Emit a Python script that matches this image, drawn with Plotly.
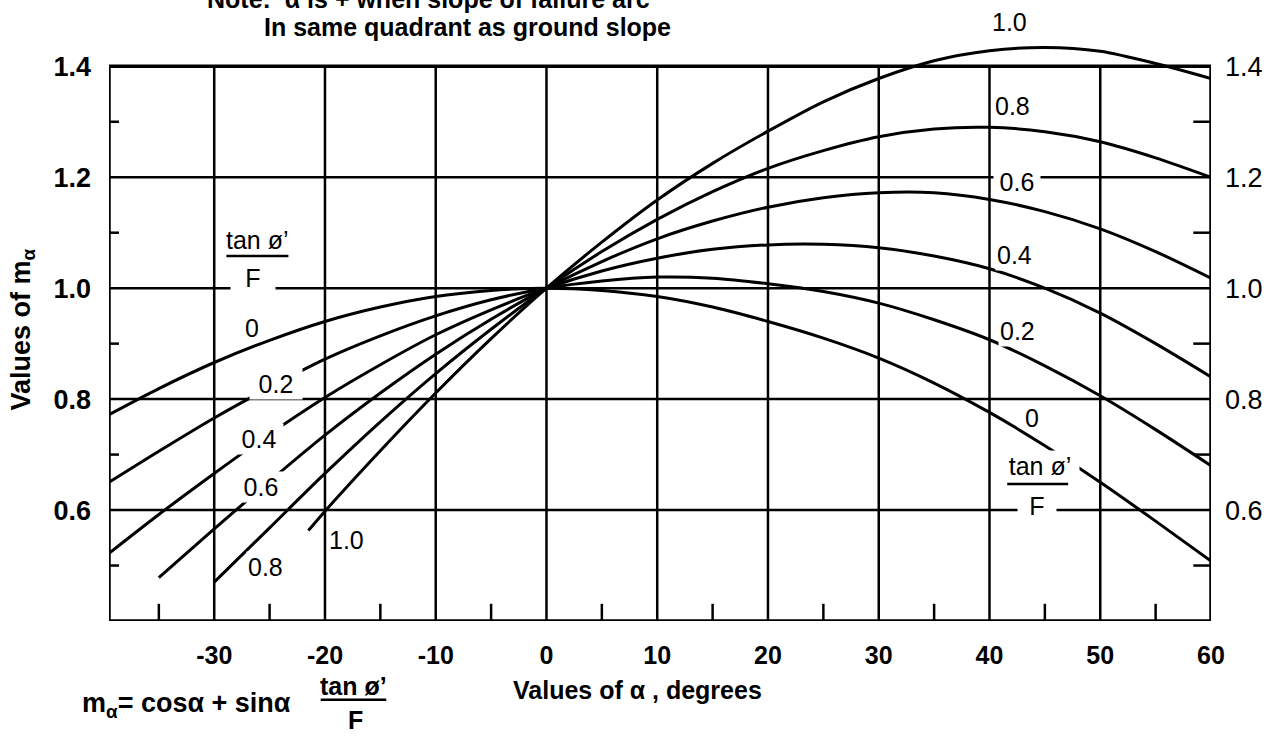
import plotly.graph_objects as go

# ---------------- data ----------------
alpha_full = [-39.5, -35, -30, -25, -20, -15, -10, -5, 0, 5, 10, 15, 20, 25, 30, 35, 40, 45, 50, 55, 60]
alpha_06 = [-35, -30, -25, -20, -15, -10, -5, 0, 5, 10, 15, 20, 25, 30, 35, 40, 45, 50, 55, 60]
alpha_08 = [-30, -25, -20, -15, -10, -5, 0, 5, 10, 15, 20, 25, 30, 35, 40, 45, 50, 55, 60]
alpha_10 = [-21.5, -20, -15, -10, -5, 0, 5, 10, 15, 20, 25, 30, 35, 40, 45, 50, 55, 60]

m_00 = [0.772, 0.819, 0.866, 0.906, 0.940, 0.966, 0.985, 0.996, 1.000, 0.996, 0.985, 0.966, 0.940,
        0.910, 0.874, 0.829, 0.776, 0.716, 0.650, 0.580, 0.508]
m_02 = [0.650, 0.706, 0.766, 0.821, 0.872, 0.914, 0.950, 0.979, 1.000, 1.013, 1.020, 1.018, 1.008,
        0.994, 0.973, 0.943, 0.907, 0.860, 0.806, 0.745, 0.680]
m_04 = [0.522, 0.592, 0.666, 0.737, 0.803, 0.862, 0.916, 0.961, 1.000, 1.031, 1.054, 1.070, 1.078,
        1.079, 1.073, 1.058, 1.035, 1.000, 0.955, 0.900, 0.840]
m_06 = [0.478, 0.566, 0.652, 0.735, 0.811, 0.881, 0.944, 1.000, 1.048, 1.089, 1.121, 1.146, 1.163,
        1.172, 1.172, 1.160, 1.138, 1.107, 1.066, 1.018]
m_08 = [0.470, 0.568, 0.666, 0.759, 0.846, 0.926, 1.000, 1.066, 1.124, 1.174, 1.216, 1.248, 1.273,
        1.287, 1.290, 1.282, 1.264, 1.235, 1.200]
m_10 = [0.563, 0.598, 0.707, 0.811, 0.909, 1.000, 1.083, 1.159, 1.225, 1.283, 1.336, 1.378, 1.410,
        1.428, 1.434, 1.427, 1.405, 1.378]

ratio_names = ["0", "0.2", "0.4", "0.6", "0.8", "1.0"]
curve_x = [alpha_full, alpha_full, alpha_full, alpha_06, alpha_08, alpha_10]
curve_y = [m_00, m_02, m_04, m_06, m_08, m_10]

x_tick_vals = [-30, -20, -10, 0, 10, 20, 30, 40, 50, 60]
x_tick_text = ["-30", "-20", "-10", "0", "10", "20", "30", "40", "50", "60"]
y_tick_vals = [0.6, 0.8, 1.0, 1.2, 1.4]
y_tick_text = ["0.6", "0.8", "1.0", "1.2", "1.4"]
x_grid = [-30, -20, -10, 0, 10, 20, 30, 40, 50]
y_grid = [0.6, 0.8, 1.0, 1.2]
x_minor = [-35, -25, -15, -5, 5, 15, 25, 35, 45, 55]
y_minor = [0.5, 0.7, 0.9, 1.1, 1.3]

X_MIN, X_MAX = -39.5, 60
Y_MIN, Y_FRAME_TOP, Y_VIEW_TOP = 0.4, 1.4, 1.46

FONT = "Liberation Sans, Arial, Helvetica, sans-serif"

fig = go.Figure()

for name, xs, ys in zip(ratio_names, curve_x, curve_y):
    fig.add_trace(go.Scatter(
        x=xs, y=ys, mode="lines", name=name,
        line=dict(color="black", width=3, shape="spline", smoothing=0.8),
        hoverinfo="skip", showlegend=False))

# invisible trace to anchor the right-hand axis
fig.add_trace(go.Scatter(x=alpha_full, y=m_00, yaxis="y2", mode="lines",
                         line=dict(width=0, color="rgba(0,0,0,0)"),
                         hoverinfo="skip", showlegend=False))

shapes = []
grid_line = dict(color="black", width=2.5)
for gx in x_grid:
    shapes.append(dict(type="line", xref="x", yref="y", x0=gx, x1=gx, y0=Y_MIN, y1=Y_FRAME_TOP,
                       line=grid_line, layer="below"))
for gy in y_grid:
    shapes.append(dict(type="line", xref="x", yref="y", x0=X_MIN, x1=X_MAX, y0=gy, y1=gy,
                       line=grid_line, layer="below"))
# frame
frame_line = dict(color="black", width=3.5)
shapes += [
    dict(type="line", xref="x", yref="y", x0=X_MIN, x1=X_MAX, y0=Y_FRAME_TOP, y1=Y_FRAME_TOP, line=frame_line, layer="below"),
    dict(type="line", xref="x", yref="y", x0=X_MIN, x1=X_MAX, y0=Y_MIN, y1=Y_MIN, line=frame_line, layer="below"),
    dict(type="line", xref="x", yref="y", x0=X_MIN, x1=X_MIN, y0=Y_MIN, y1=Y_FRAME_TOP, line=frame_line, layer="below"),
    dict(type="line", xref="x", yref="y", x0=X_MAX, x1=X_MAX, y0=Y_MIN, y1=Y_FRAME_TOP, line=frame_line, layer="below"),
]
# minor ticks
tick_line = dict(color="black", width=2.5)
for mx in x_minor:
    shapes.append(dict(type="line", xref="x", yref="y", x0=mx, x1=mx, y0=Y_MIN, y1=Y_MIN + 0.031,
                       line=tick_line, layer="below"))
for my in y_minor:
    shapes.append(dict(type="line", xref="x", yref="y", x0=X_MIN, x1=X_MIN + 0.9, y0=my, y1=my,
                       line=tick_line, layer="below"))
    shapes.append(dict(type="line", xref="x", yref="y", x0=X_MAX - 1.6, x1=X_MAX, y0=my, y1=my,
                       line=tick_line, layer="below"))
# fraction bars of tan(phi')/F labels
shapes.append(dict(type="line", xref="x", yref="y", x0=-28.9, x1=-23.3, y0=1.058, y1=1.058,
                   line=dict(color="black", width=2.5)))
shapes.append(dict(type="line", xref="x", yref="y", x0=41.6, x1=47.1, y0=0.647, y1=0.647,
                   line=dict(color="black", width=2.5)))
# fraction bar of the formula (paper coords)
shapes.append(dict(type="line", xref="paper", yref="paper", x0=0.1921, x1=0.2516, y0=-0.134, y1=-0.134,
                   line=dict(color="black", width=2.5)))

annotations = []


def lab(text, x, y, size=25, width=None, bold=False, bg=True):
    a = dict(text=text, x=x, y=y, xref="x", yref="y", showarrow=False,
             font=dict(family=FONT, size=size, color="black", weight="bold" if bold else "normal"),
             xanchor="center", yanchor="middle", borderpad=1)
    if bg:
        a["bgcolor"] = "white"
    if width:
        a["width"] = width
    annotations.append(a)


# left side curve labels
lab("0", -26.58, 0.928, bg=False)
lab("0.2", -24.43, 0.828, width=50)
lab("0.4", -25.95, 0.729, width=46)
lab("0.6", -25.77, 0.642, width=46)
lab("0.8", -25.41, 0.497)
lab("1.0", -18.06, 0.546)
lab("tan ø’", -26.13, 1.087, size=25, bg=False)
lab("F", -26.5, 1.018, size=25, width=42)
# right side curve labels
lab("0.8", 42.05, 1.329)
lab("0.6", 42.5, 1.191, width=44)
lab("0.4", 42.23, 1.059)
lab("0.2", 42.5, 0.923)
lab("0", 43.85, 0.766, bg=False)
lab("tan ø’", 44.55, 0.679, size=25, width=76)
lab("F", 44.3, 0.607, size=25, width=36)


def ptxt(text, x, y, size, xanchor="center", angle=0, bold=True):
    annotations.append(dict(text=text, x=x, y=y, xref="paper", yref="paper", showarrow=False,
                            font=dict(family=FONT, size=size, color="black",
                                      weight="bold" if bold else "normal"),
                            xanchor=xanchor, yanchor="middle", textangle=angle))


# "1.0" label above the frame (top of the 1.0 curve)
ptxt("1.0", 0.817, 1.0187, 25, bold=False)
ptxt("Note:  α is + when slope of failure arc", 0.2895, 1.058, 25)
ptxt("In same quadrant as ground slope", 0.3255, 1.0102, 25)
ptxt("Values of m<sub>α</sub>", -0.0784, 0.495, 27, angle=-90)
ptxt("Values of α , degrees", 0.4797, -0.118, 25)
ptxt("m<sub>α</sub>= cosα + sinα", -0.02615, -0.1430, 27, xanchor="left")
ptxt("tan ø’", 0.2218, -0.1105, 25)
ptxt("F", 0.2236, -0.168, 25)

tickfont = dict(family=FONT, size=25, color="black", weight="bold")

fig.update_layout(
    width=1275, height=740,
    margin=dict(l=109, r=57, t=33, b=119),
    paper_bgcolor="white", plot_bgcolor="white",
    showlegend=False, hovermode=False,
    shapes=shapes, annotations=annotations,
    xaxis=dict(range=[X_MIN, X_MAX], tickmode="array", tickvals=x_tick_vals, ticktext=x_tick_text,
               showgrid=False, zeroline=False, showline=False, ticks="",
               ticklabelstandoff=17, tickfont=tickfont, fixedrange=True),
    yaxis=dict(range=[Y_MIN, Y_VIEW_TOP], tickmode="array", tickvals=y_tick_vals, ticktext=y_tick_text,
               showgrid=False, zeroline=False, showline=False, ticks="",
               ticklabelstandoff=17, tickfont=dict(family=FONT, size=27, color="black", weight="bold"),
               fixedrange=True),
    yaxis2=dict(range=[Y_MIN, Y_VIEW_TOP], overlaying="y", side="right", tickmode="array",
                tickvals=y_tick_vals, ticktext=y_tick_text,
                showgrid=False, zeroline=False, showline=False, ticks="",
                ticklabelstandoff=13, tickfont=dict(family=FONT, size=27, color="black"),
                fixedrange=True),
)

fig.write_html("out.html")
